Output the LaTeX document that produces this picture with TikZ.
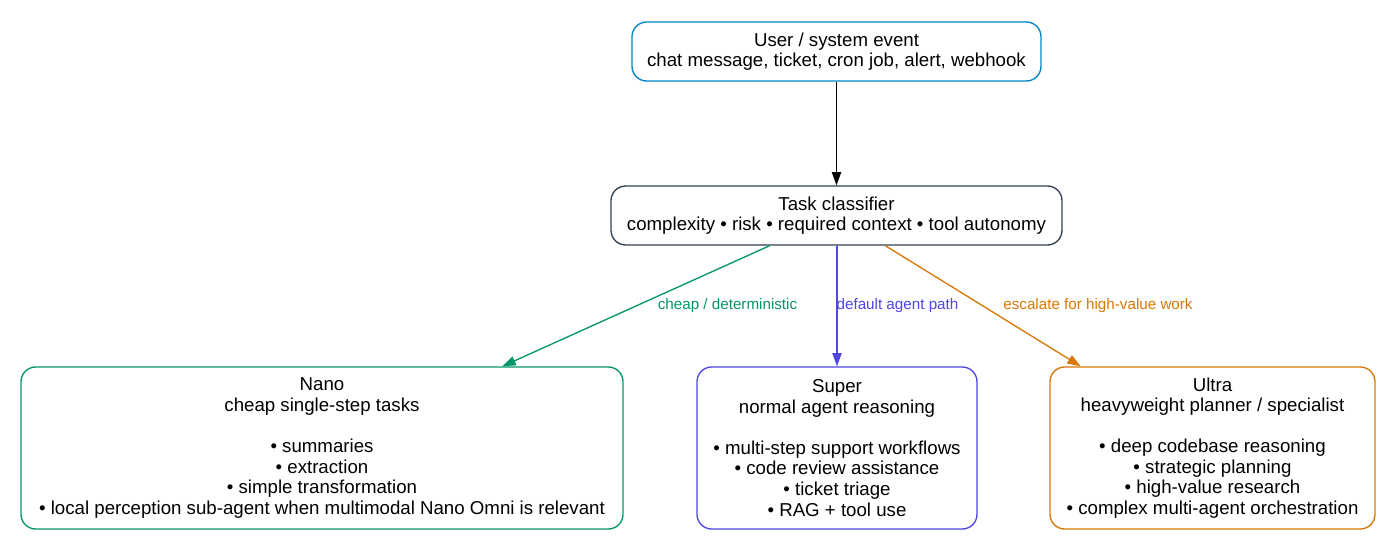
\documentclass[tikz,border=0pt]{standalone}
\usepackage{fontspec}
\setmainfont{Liberation Sans}
\usetikzlibrary{arrows.meta}
\definecolor{cuser}{HTML}{0284C7}
\definecolor{ctask}{HTML}{334155}
\definecolor{cnano}{HTML}{059669}
\definecolor{csuper}{HTML}{4F46E5}
\definecolor{cultra}{HTML}{D97706}
\begin{document}
\begin{tikzpicture}[x=0.75pt,y=-0.75pt,
  box/.style={draw, rounded corners=11pt, line width=1pt, align=center, inner sep=0pt,
    font=\fontsize{14}{15.4}\selectfont},
  conn/.style={line width=1pt, -{Triangle[length=10pt,width=7pt]}},
  lbl/.style={font=\fontsize{11.4}{13}\selectfont, inner sep=0pt}]
\useasboundingbox (0,0) rectangle (1400,539);
\node[box, draw=cuser, minimum width=306.75pt, minimum height=44.25pt] (user) at (836.5,51.5)
  {User / system event\\chat message, ticket, cron job, alert, webhook};
\node[box, draw=ctask, minimum width=338.25pt, minimum height=44.25pt] (task) at (836.5,215.5)
  {Task classifier\\complexity • risk • required context • tool autonomy};
\node[box, draw=cnano, minimum width=451.5pt, minimum height=121.5pt] (nano) at (322,448)
  {Nano\\cheap single-step tasks\\[15.4pt]• summaries\\• extraction\\• simple transformation\\• local perception sub-agent when multimodal Nano Omni is relevant};
\node[box, draw=csuper, minimum width=210pt, minimum height=121.5pt] (super) at (837,448)
  {Super\\normal agent reasoning\\[15.4pt]• multi-step support workflows\\• code review assistance\\• ticket triage\\• RAG + tool use};
\node[box, draw=cultra, minimum width=243.75pt, minimum height=121.5pt] (ultra) at (1212.5,448)
  {Ultra\\heavyweight planner / specialist\\[15.4pt]• deep codebase reasoning\\• strategic planning\\• high-value research\\• complex multi-agent orchestration};
\draw[conn, black] (user) -- (task);
\draw[conn, cnano] (task) -- (nano) node[lbl, text=cnano] (lnano) at (727.5,306) {cheap / deterministic};
\draw[conn, csuper] (task.south -| super.north) -- (super) node[lbl, text=csuper] (lsuper) at (897.5,306) {default agent path};
\draw[conn, cultra] (task) -- (ultra) node[lbl, text=cultra] (lultra) at (1098,306) {escalate for high-value work};
\end{tikzpicture}
\end{document}
